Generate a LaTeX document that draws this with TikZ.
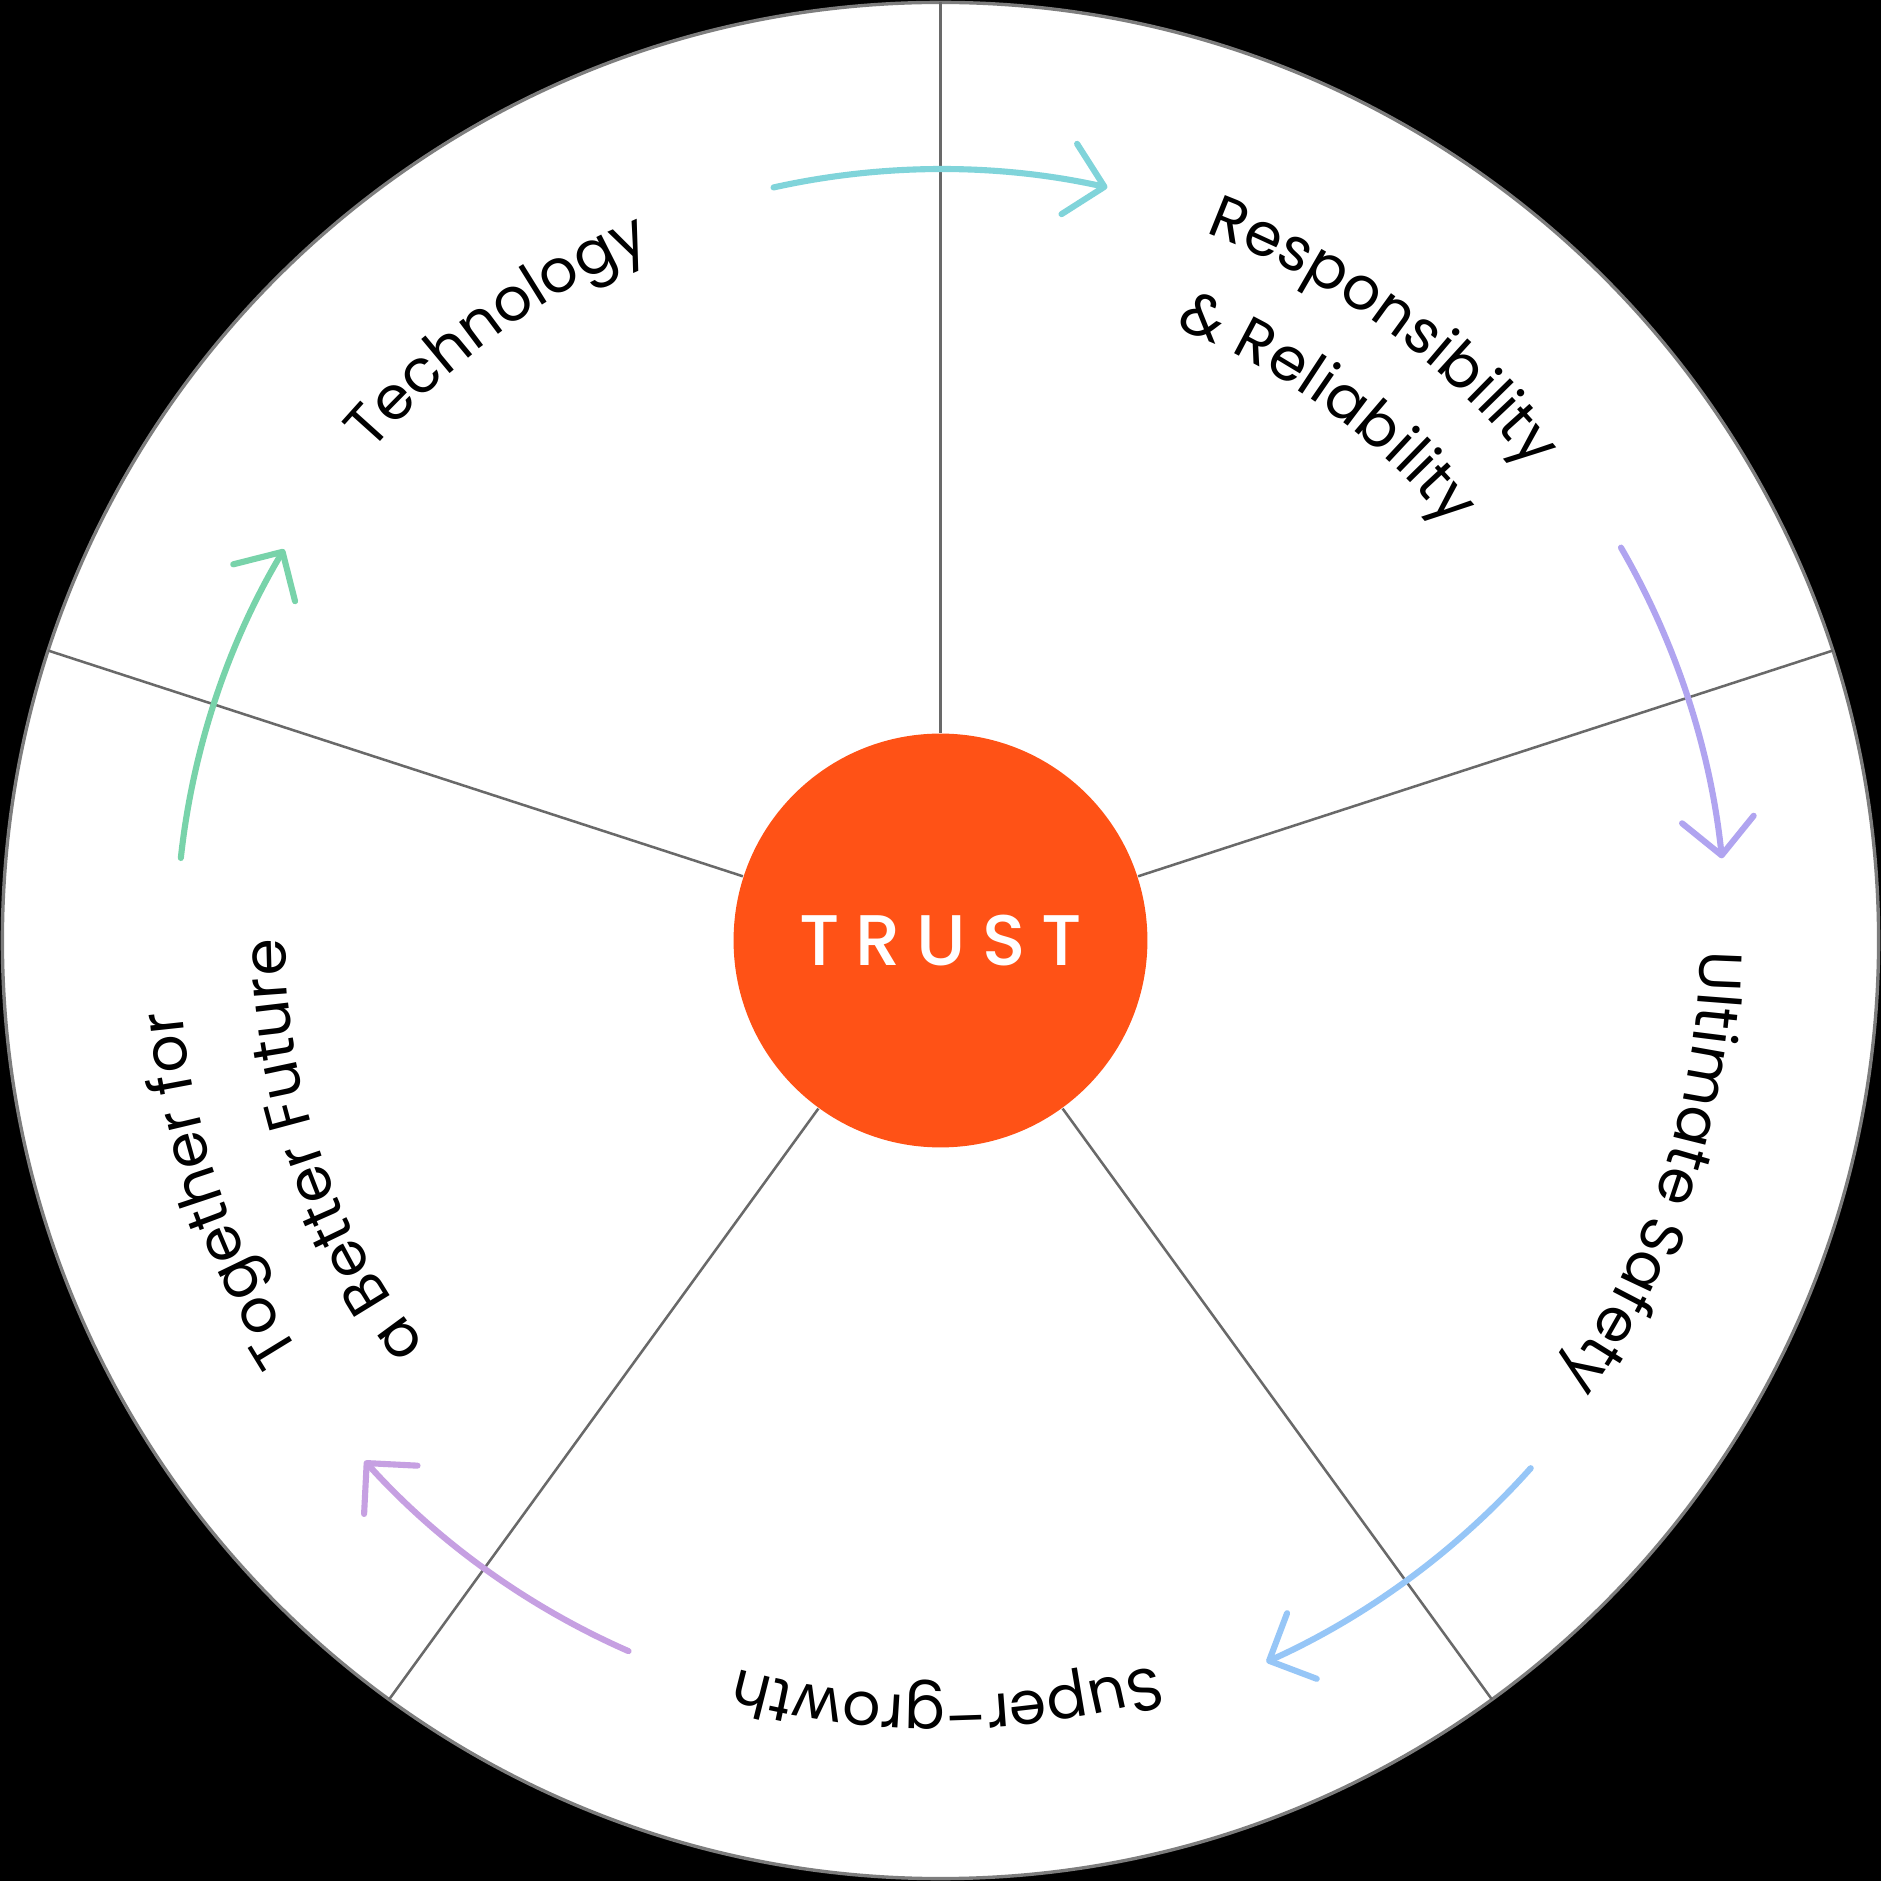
\documentclass[tikz,border=0pt]{standalone}
\usepackage{fontspec}
\setmainfont{Poppins}
\newfontfamily\trustfont{Poppins}[UprightFont=* Medium,LetterSpace=22]
\usetikzlibrary{arrows.meta,decorations.text}
\definecolor{trustorange}{RGB}{255,82,22}
\definecolor{rimgray}{RGB}{125,125,125}
\definecolor{spokegray}{RGB}{105,105,105}
\definecolor{arrowteal}{RGB}{128,212,218}
\definecolor{arrowlavender}{RGB}{176,164,240}
\definecolor{arrowsky}{RGB}{150,198,247}
\definecolor{arrowlilac}{RGB}{198,160,226}
\definecolor{arrowmint}{RGB}{120,211,170}
\newcommand{\wheelfont}{\fontsize{14.2}{17}\selectfont}

\begin{document}
\begin{tikzpicture}[
    spoke/.style={draw=spokegray,line width=0.6pt},
    cycle/.style={line width=1.45pt,line cap=round,-{Straight Barb[length=3mm,width=6mm,round]}},
    wheel/.style={decorate,decoration={text along path,text align=center,text={|\wheelfont|#1}}}]

    \fill[black] (-7.84,-7.84) rectangle (7.84,7.84);
    \draw[rimgray,fill=white,line width=0.8pt] (0,0) circle (7.82);

    \node[circle,fill=trustorange,minimum size=3.45cm,inner sep=0pt,text=white,
        font=\trustfont\fontsize{17}{20}\selectfont] (trust) at (0,0) {TRUST};

    \draw[spoke] (trust.90) -- (90:7.82);
    \draw[spoke] (trust.18) -- (18:7.82);
    \draw[spoke] (trust.162) -- (162:7.82);
    \draw[spoke] (trust.-54) -- (-54:7.82);
    \draw[spoke] (trust.-126) -- (-126:7.82);

    % Values round the wheel
    \path[wheel=Technology] (156:6.25) arc[start angle=156,end angle=96,radius=6.25];
    \path[wheel=Responsibility] (84:6.3) arc[start angle=84,end angle=24,radius=6.3];
    \path[wheel={{\&} Reliability}] (84:5.47) arc[start angle=84,end angle=24,radius=5.47];
    \path[wheel=Ultimate Safety] (12:6.33) arc[start angle=12,end angle=-48,radius=6.33];
    \path[wheel=Super–growth] (-59.5:6.3) arc[start angle=-59.5,end angle=-119.5,radius=6.3];
    \path[wheel=Together for] (-131:6.35) arc[start angle=-131,end angle=-191,radius=6.35];
    \path[wheel=a Better Future] (-131:5.46) arc[start angle=-131,end angle=-191,radius=5.46];

    % Cycle arrows
    \coordinate (techout) at (102.5:6.43);
    \coordinate (respout) at (30:6.55);
    \coordinate (safeout) at (-41.8:6.6);
    \coordinate (growout) at (-113.7:6.47);
    \coordinate (futout) at (173.8:6.37);
    \draw[cycle,arrowteal] (techout) arc[start angle=102.5,end angle=77.5,radius=6.43];
    \draw[cycle,arrowlavender] (respout) arc[start angle=30,end angle=6,radius=6.55];
    \draw[cycle,arrowsky] (safeout) arc[start angle=-41.8,end angle=-65.7,radius=6.6];
    \draw[cycle,arrowlilac] (growout) arc[start angle=-113.7,end angle=-137.9,radius=6.47];
    \draw[cycle,arrowmint] (futout) arc[start angle=173.8,end angle=149.2,radius=6.37];
\end{tikzpicture}
\end{document}
